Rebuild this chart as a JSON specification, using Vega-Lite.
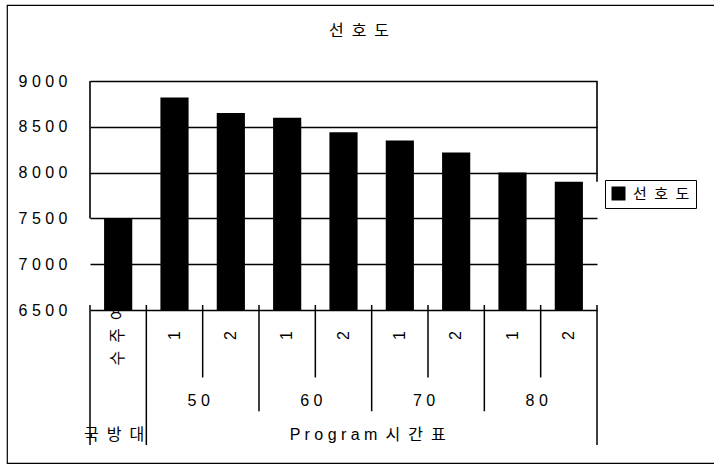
{
  "$schema": "https://vega.github.io/schema/vega-lite/v6.json",
  "autosize": "none",
  "width": 708,
  "height": 458,
  "padding": {"left": 7, "top": 5, "right": -1, "bottom": 3},
  "background": "white",
  "config": {
    "view": {"stroke": "black", "strokeWidth": 1.2},
    "font": "Liberation Sans, Noto Sans CJK KR"
  },
  "title": {
    "text": "선\u2002호\u2002도",
    "anchor": "middle",
    "offset": -42,
    "baseline": "middle",
    "fontSize": 16,
    "fontWeight": "normal",
    "font": "Noto Sans CJK KR",
    "color": "black",
    "dx": -2
  },
  "datasets": {
    "bars": [
      {"key": "국방대|수주여", "top": "국방대", "group": "", "sub": "수 주 여", "series": "선\u2002호\u2002도", "value": 7500},
      {"key": "50|1", "top": "Program 시간표", "group": "50", "sub": "1", "series": "선\u2002호\u2002도", "value": 8820},
      {"key": "50|2", "top": "Program 시간표", "group": "50", "sub": "2", "series": "선\u2002호\u2002도", "value": 8650},
      {"key": "60|1", "top": "Program 시간표", "group": "60", "sub": "1", "series": "선\u2002호\u2002도", "value": 8600},
      {"key": "60|2", "top": "Program 시간표", "group": "60", "sub": "2", "series": "선\u2002호\u2002도", "value": 8440},
      {"key": "70|1", "top": "Program 시간표", "group": "70", "sub": "1", "series": "선\u2002호\u2002도", "value": 8350},
      {"key": "70|2", "top": "Program 시간표", "group": "70", "sub": "2", "series": "선\u2002호\u2002도", "value": 8220},
      {"key": "80|1", "top": "Program 시간표", "group": "80", "sub": "1", "series": "선\u2002호\u2002도", "value": 8000},
      {"key": "80|2", "top": "Program 시간표", "group": "80", "sub": "2", "series": "선\u2002호\u2002도", "value": 7900}
    ],
    "inner": [
      {"key": "국방대|수주여", "label": "수\u2002주\u2002여", "level": 1},
      {"key": "50|1", "label": "1", "level": 1},
      {"key": "50|2", "label": "2", "level": 1},
      {"key": "60|1", "label": "1", "level": 1},
      {"key": "60|2", "label": "2", "level": 1},
      {"key": "70|1", "label": "1", "level": 1},
      {"key": "70|2", "label": "2", "level": 1},
      {"key": "80|1", "label": "1", "level": 1},
      {"key": "80|2", "label": "2", "level": 1}
    ],
    "bounds": [
      {"key": "국방대|수주여", "depth": 3},
      {"key": "50|1", "depth": 3},
      {"key": "50|2", "depth": 1},
      {"key": "60|1", "depth": 2},
      {"key": "60|2", "depth": 1},
      {"key": "70|1", "depth": 2},
      {"key": "70|2", "depth": 1},
      {"key": "80|1", "depth": 2},
      {"key": "80|2", "depth": 1}
    ],
    "ends": [
      {"key": "80|2", "depth": 3}
    ],
    "spans": [
      {"key": "50|1", "label": "5 0", "depth": 2},
      {"key": "60|1", "label": "6 0", "depth": 2},
      {"key": "70|1", "label": "7 0", "depth": 2},
      {"key": "80|1", "label": "8 0", "depth": 2},
      {"key": "60|2", "label": "P r o g r a m\u2002시\u2002간\u2002표", "depth": 3}
    ],
    "single": [
      {"key": "국방대|수주여", "label": "국\u2002방\u2002대", "depth": 3}
    ]
  },
  "layer": [
    {
      "data": {"name": "bars"},
      "mark": {"type": "bar", "width": {"band": 0.5}},
      "encoding": {
        "x": {
          "field": "key", "type": "nominal",
          "scale": {
            "domain": ["국방대|수주여", "50|1", "50|2", "60|1", "60|2", "70|1", "70|2", "80|1", "80|2"],
            "range": [83, 590], "paddingInner": 0, "paddingOuter": 0
          },
          "axis": null
        },
        "y": {
          "field": "value", "type": "quantitative",
          "scale": {"domain": [6500, 9000], "range": [305, 76], "nice": false, "zero": false},
          "axis": {
            "values": [6500, 7000, 7500, 8000, 8500, 9000],
            "format": "d",
            "labelExpr": "join(split(datum.label, ''), ' ')",
            "title": null,
            "domain": false,
            "ticks": false,
            "grid": true,
            "gridColor": "black",
            "gridWidth": 1.6,
            "gridOpacity": 1,
            "labelColor": "black",
            "labelFontSize": 16,
            "labelFont": "Liberation Sans",
            "labelPadding": 23,
            "offset": -83
          }
        },
        "y2": {"datum": 6500},
        "color": {
          "field": "series", "type": "nominal",
          "scale": {"range": ["black"]},
          "legend": {
            "orient": "none", "legendX": 598, "legendY": 175,
            "title": null, "strokeColor": "black", "padding": 6,
            "symbolType": "square", "symbolSize": 196, "symbolStrokeWidth": 0,
            "labelFontSize": 15, "labelFont": "Noto Sans CJK KR", "labelColor": "black",
            "labelOffset": 7
          }
        }
      }
    },
    {
      "data": {"name": "bars"},
      "transform": [{"filter": "datum.key == '국방대|수주여'"}],
      "mark": {"type": "rule", "color": "black", "strokeWidth": 1.6},
      "encoding": {
        "x": {"field": "key", "type": "nominal", "bandPosition": 0},
        "y": {"field": "value", "type": "quantitative", "scale": {"domain": [6500, 9000], "range": [305, 76], "nice": false, "zero": false}, "axis": null},
        "y2": {"datum": 9000}
      }
    },
    {
      "data": {"name": "bars"},
      "transform": [{"filter": "datum.key == '80|2'"}],
      "mark": {"type": "rule", "color": "black", "strokeWidth": 1.6},
      "encoding": {
        "x": {"field": "key", "type": "nominal", "bandPosition": 1},
        "y": {"field": "value", "type": "quantitative", "scale": {"domain": [6500, 9000], "range": [305, 76], "nice": false, "zero": false}, "axis": null},
        "y2": {"datum": 9000}
      }
    },
    {
      "data": {"name": "bounds"},
      "mark": {"type": "rule", "color": "black", "strokeWidth": 1.5},
      "encoding": {
        "x": {"field": "key", "type": "nominal", "bandPosition": 0},
        "y": {"field": "depth", "type": "quantitative", "scale": {"domain": [-1, 3], "range": [305, 440], "nice": false, "zero": false}, "axis": null},
        "y2": {"datum": -1.15}
      }
    },
    {
      "data": {"name": "ends"},
      "mark": {"type": "rule", "color": "black", "strokeWidth": 1.5},
      "encoding": {
        "x": {"field": "key", "type": "nominal", "bandPosition": 1},
        "y": {"field": "depth", "type": "quantitative", "scale": {"domain": [-1, 3], "range": [305, 440], "nice": false, "zero": false}, "axis": null},
        "y2": {"datum": -1.15}
      }
    },
    {
      "data": {"name": "inner"},
      "mark": {"type": "text", "angle": 270, "align": "center", "baseline": "middle", "dx": 42, "fontSize": 16, "color": "black", "font": "Liberation Sans, Noto Sans CJK KR"},
      "encoding": {
        "x": {"field": "key", "type": "nominal"},
        "y": {"field": "level", "type": "quantitative", "scale": {"domain": [-1, 3], "range": [305, 440], "nice": false, "zero": false}, "axis": null},
        "text": {"field": "label", "type": "nominal"}
      }
    },
    {
      "data": {"name": "spans"},
      "mark": {"type": "text", "align": "center", "baseline": "middle", "dy": -10, "dx": -4, "fontSize": 16, "color": "black", "font": "Liberation Sans, Noto Sans CJK KR"},
      "encoding": {
        "x": {"field": "key", "type": "nominal", "bandPosition": 1},
        "y": {"field": "depth", "type": "quantitative", "scale": {"domain": [-1, 3], "range": [305, 440], "nice": false, "zero": false}, "axis": null},
        "text": {"field": "label", "type": "nominal"}
      }
    },
    {
      "data": {"name": "single"},
      "mark": {"type": "text", "align": "center", "baseline": "middle", "dy": -10, "dx": -4, "fontSize": 16, "color": "black", "font": "Noto Sans CJK KR"},
      "encoding": {
        "x": {"field": "key", "type": "nominal"},
        "y": {"field": "depth", "type": "quantitative", "scale": {"domain": [-1, 3], "range": [305, 440], "nice": false, "zero": false}, "axis": null},
        "text": {"field": "label", "type": "nominal"}
      }
    }
  ],
  "resolve": {"scale": {"y": "independent"}}
}
